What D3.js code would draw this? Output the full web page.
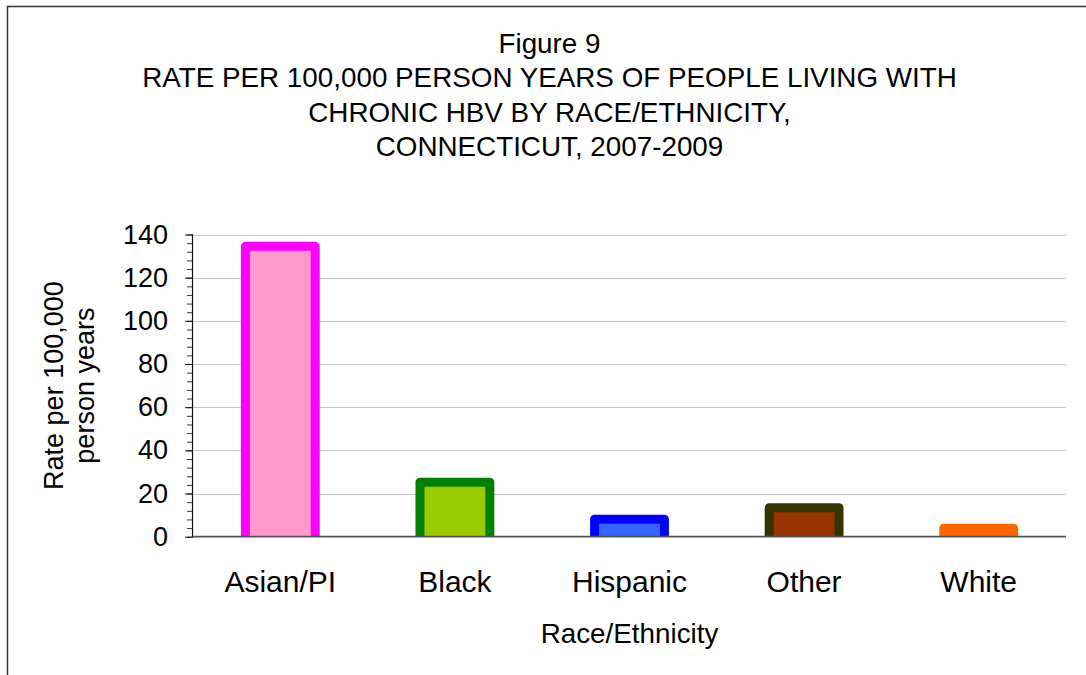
<!DOCTYPE html>
<html>
<head>
<meta charset="utf-8">
<script src="https://cdn.jsdelivr.net/npm/d3@7"></script>
<style>
  html, body { margin: 0; padding: 0; background: #fff; }
  svg { display: block; }
  text { font-family: "Liberation Sans", Arial, sans-serif; fill: #000; }
</style>
</head>
<body>
<script>
// Chronic HBV rate per 100,000 person years, Connecticut 2007-2009
const categories = ["Asian/PI", "Black", "Hispanic", "Other", "White"];
const rates = [134.5, 25.2, 8.1, 13.4, 3.9];
const fillColors = ["#FF99CC", "#99CC00", "#3366FF", "#993300", "#FF6600"];
const strokeColors = ["#FF00FF", "#008000", "#0000FF", "#333300", "#FF6600"];
const yTicks = [0, 20, 40, 60, 80, 100, 120, 140];
const titleLines = [
  "Figure 9",
  "RATE PER 100,000 PERSON YEARS OF PEOPLE LIVING WITH",
  "CHRONIC HBV BY RACE/ETHNICITY,",
  "CONNECTICUT, 2007-2009"
];
const yTitleLines = ["Rate per 100,000", "person years"];
const xTitle = "Race/Ethnicity";

const W = 1086, H = 675;
const plot = { left: 193, right: 1066, top: 234.5, bottom: 536.7 };

const svg = d3.select("body").append("svg").attr("width", W).attr("height", H);

// chart frame
svg.append("rect")
  .attr("x", 7.5).attr("y", 6.5)
  .attr("width", 1200).attr("height", 800)
  .attr("fill", "none").attr("stroke", "#333").attr("stroke-width", 1.5);

// title
svg.append("g").selectAll("text").data(titleLines).join("text")
  .attr("x", 549.5)
  .attr("y", (d, i) => 52.5 + i * 34.5)
  .attr("text-anchor", "middle")
  .attr("font-size", 27.8)
  .text(d => d);

const x = d3.scaleBand().domain(categories).range([plot.left, plot.right]).paddingInner(0.6).paddingOuter(0.3);
const y = d3.scaleLinear().domain([0, 140]).range([plot.bottom, plot.top]);

// gridlines
svg.append("g").selectAll("line").data(yTicks.filter(t => t > 0)).join("line")
  .attr("x1", plot.left).attr("x2", plot.right)
  .attr("y1", d => Math.round(y(d)) + 0.5).attr("y2", d => Math.round(y(d)) + 0.5)
  .attr("stroke", "#c6c6c6").attr("stroke-width", 1);

// bars, clipped at the category axis
svg.append("defs").append("clipPath").attr("id", "plotClip")
  .append("rect").attr("x", 0).attr("y", 0).attr("width", W).attr("height", plot.bottom);

svg.append("g").attr("clip-path", "url(#plotClip)")
  .selectAll("rect").data(categories).join("rect")
  .attr("x", d => x(d))
  .attr("width", x.bandwidth())
  .attr("y", (d, i) => y(rates[i]))
  .attr("height", (d, i) => plot.bottom - y(rates[i]) + 5)
  .attr("fill", (d, i) => fillColors[i])
  .attr("stroke", (d, i) => strokeColors[i])
  .attr("stroke-width", 9)
  .attr("stroke-linejoin", "round");

// y axis with minor ticks
const yAxisMinor = d3.axisLeft(y).tickValues(d3.range(0, 141, 4)).tickSize(6).tickFormat("");
svg.append("g").attr("transform", `translate(${plot.left},0)`).call(yAxisMinor)
  .call(g => g.select(".domain").remove())
  .call(g => g.selectAll("line").attr("stroke", "#333"));

const yAxis = d3.axisLeft(y).tickValues(yTicks).tickSize(8).tickPadding(17);
svg.append("g").attr("transform", `translate(${plot.left},0)`).call(yAxis)
  .call(g => g.select(".domain").attr("d", `M-0.5,${plot.top}V${plot.bottom}`).attr("stroke", "#111").attr("stroke-width", 1.2))
  .call(g => g.selectAll("line").attr("stroke", "#111"))
  .call(g => g.selectAll("text").attr("font-size", 27).attr("font-family", "Liberation Sans, Arial, sans-serif").attr("fill", "#000"));

// category axis
svg.append("line")
  .attr("x1", plot.left).attr("x2", plot.right)
  .attr("y1", plot.bottom).attr("y2", plot.bottom)
  .attr("stroke", "#555").attr("stroke-width", 1.8);

svg.append("g").selectAll("text").data(categories).join("text")
  .attr("x", d => x(d) + x.bandwidth() / 2)
  .attr("y", 591.5)
  .attr("text-anchor", "middle")
  .attr("font-size", 30)
  .text(d => d);

// axis titles
svg.append("text")
  .attr("x", (plot.left + plot.right) / 2).attr("y", 642.5)
  .attr("text-anchor", "middle").attr("font-size", 27.8)
  .text(xTitle);

svg.append("g").selectAll("text").data(yTitleLines).join("text")
  .attr("transform", (d, i) => `translate(${63 + i * 31},${(plot.top + plot.bottom) / 2}) rotate(-90)`)
  .attr("text-anchor", "middle").attr("font-size", 27)
  .text(d => d);
</script>
</body>
</html>
